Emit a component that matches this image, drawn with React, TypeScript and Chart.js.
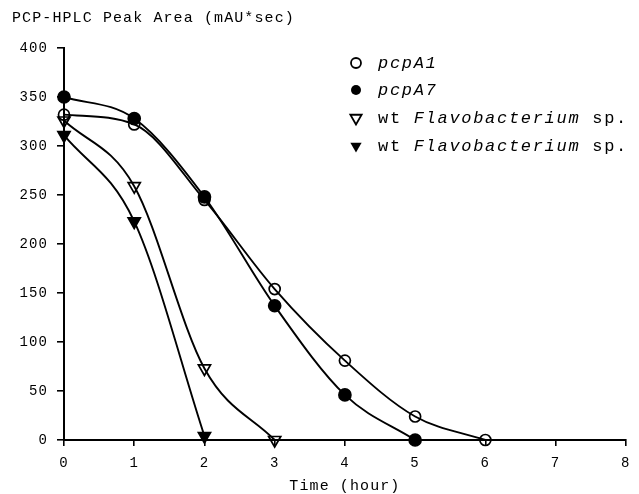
import React, { useEffect, useRef } from 'react';
import { Chart, registerables } from 'chart.js';

Chart.register(...registerables);

const hours = [0, 1, 2, 3, 4, 5, 6, 7, 8];
const pcpA1 = [332, 322, 245, 154, 81, 24, 0];
const pcpA7 = [350, 328, 248, 137, 46, 0];
const wtOpen = [326, 259, 73, 0];
const wtFilled = [311, 223, 4];
const yTickValues = [0, 50, 100, 150, 200, 250, 300, 350, 400];
const yAxisTitle = 'PCP-HPLC Peak Area (mAU*sec)';
const xAxisTitle = 'Time (hour)';
const legendItems: { sym: string; parts: { t: string; i: boolean }[] }[] = [
  { sym: 'circleOpen', parts: [{ t: 'pcpA1', i: true }] },
  { sym: 'circleFilled', parts: [{ t: 'pcpA7', i: true }] },
  { sym: 'triOpen', parts: [{ t: 'wt ', i: false }, { t: 'Flavobacterium', i: true }, { t: ' sp.', i: false }] },
  { sym: 'triFilled', parts: [{ t: 'wt ', i: false }, { t: 'Flavobacterium', i: true }, { t: ' sp.', i: false }] },
];

const MONO = "'Liberation Mono', 'Courier New', monospace";

const toXY = (vals: number[]) => vals.map((v, i) => ({ x: hours[i], y: v }));

const decorPlugin = {
  id: 'decor',
  beforeDraw(chart: any) {
    const ctx = chart.ctx as any;
    ctx.letterSpacing = '1.1px';
  },
  afterDraw(chart: any) {
    const ctx = chart.ctx as any;
    ctx.save();
    ctx.fillStyle = '#000';
    ctx.strokeStyle = '#000';
    ctx.textBaseline = 'middle';
    ctx.textAlign = 'left';
    ctx.letterSpacing = '1.1px';
    ctx.font = `15px ${MONO}`;
    ctx.fillText(yAxisTitle, 12, 18);

    // legend
    const symX = 356;
    const textX = 378;
    const rowY = [63, 90, 118, 146];
    ctx.letterSpacing = '1.7px';
    legendItems.forEach((item, idx) => {
      const y = rowY[idx];
      ctx.lineWidth = 1.8;
      ctx.beginPath();
      if (item.sym.startsWith('circle')) {
        ctx.arc(symX, y, 5, 0, Math.PI * 2);
      } else {
        const r = 6.5;
        ctx.moveTo(symX, y + r);
        ctx.lineTo(symX - r * Math.sin(Math.PI / 3), y - r / 2);
        ctx.lineTo(symX + r * Math.sin(Math.PI / 3), y - r / 2);
        ctx.closePath();
      }
      if (item.sym.endsWith('Filled')) ctx.fill();
      else ctx.stroke();
      let x = textX;
      item.parts.forEach((p) => {
        ctx.font = `${p.i ? 'italic ' : ''}17px ${MONO}`;
        ctx.fillText(p.t, x, y);
        x += ctx.measureText(p.t).width;
      });
    });
    ctx.restore();
  },
};

export default function App() {
  const ref = useRef<HTMLCanvasElement | null>(null);
  useEffect(() => {
    if (!ref.current) return;
    const common = {
      borderColor: '#000',
      borderWidth: 1.9,
      pointBorderColor: '#000',
      pointBorderWidth: 1.7,
      pointRadius: 6,
      cubicInterpolationMode: 'monotone' as const,
      clip: false as any,
    };
    const chart = new Chart(ref.current, {
      type: 'line',
      data: {
        datasets: [
          { ...common, label: 'pcpA1', data: toXY(pcpA1), pointStyle: 'circle', pointRadius: 5.5, pointBackgroundColor: 'rgba(0,0,0,0)' },
          { ...common, label: 'pcpA7', data: toXY(pcpA7), pointStyle: 'circle', pointRadius: 6, pointBackgroundColor: '#000' },
          { ...common, label: 'wt Flavobacterium sp.', data: toXY(wtOpen), pointStyle: 'triangle', pointRotation: 180, pointRadius: 7, pointBackgroundColor: 'rgba(0,0,0,0)' },
          { ...common, label: 'wt Flavobacterium sp. ', data: toXY(wtFilled), pointStyle: 'triangle', pointRotation: 180, pointRadius: 7, pointBackgroundColor: '#000' },
        ],
      },
      options: {
        animation: false,
        responsive: true,
        maintainAspectRatio: false,
        layout: { padding: { top: 48, left: 0, right: 4, bottom: 0 } },
        plugins: {
          legend: { display: false },
          tooltip: { enabled: false },
          title: { display: false },
        },
        scales: {
          x: {
            type: 'linear',
            min: hours[0],
            max: hours[hours.length - 1],
            afterFit: (s: any) => { s.height = 54; },
            ticks: { stepSize: 1, color: '#000', font: { family: MONO, size: 14 }, padding: 9, maxRotation: 0 },
            grid: { display: true, drawOnChartArea: false, drawTicks: true, tickLength: 6, color: '#000', lineWidth: 1.6 },
            border: { display: true, color: '#000', width: 2 },
            title: { display: true, text: xAxisTitle, color: '#000', font: { family: MONO, size: 15 }, padding: { top: 0, bottom: -1 } },
          },
          y: {
            type: 'linear',
            min: yTickValues[0],
            max: yTickValues[yTickValues.length - 1],
            afterFit: (s: any) => { s.width = 64; },
            afterBuildTicks: (s: any) => { s.ticks = yTickValues.map((v) => ({ value: v })); },
            ticks: { color: '#000', font: { family: MONO, size: 14 }, padding: 9 },
            grid: { display: true, drawOnChartArea: false, drawTicks: true, tickLength: 7, color: '#000', lineWidth: 1.6 },
            border: { display: true, color: '#000', width: 2 },
          },
        },
      },
      plugins: [decorPlugin],
    } as any);
    return () => chart.destroy();
  }, []);
  return (
    <div style={{ position: 'fixed', left: 0, top: 0, width: 639, height: 494, background: '#fff' }}>
      <canvas ref={ref} />
    </div>
  );
}
